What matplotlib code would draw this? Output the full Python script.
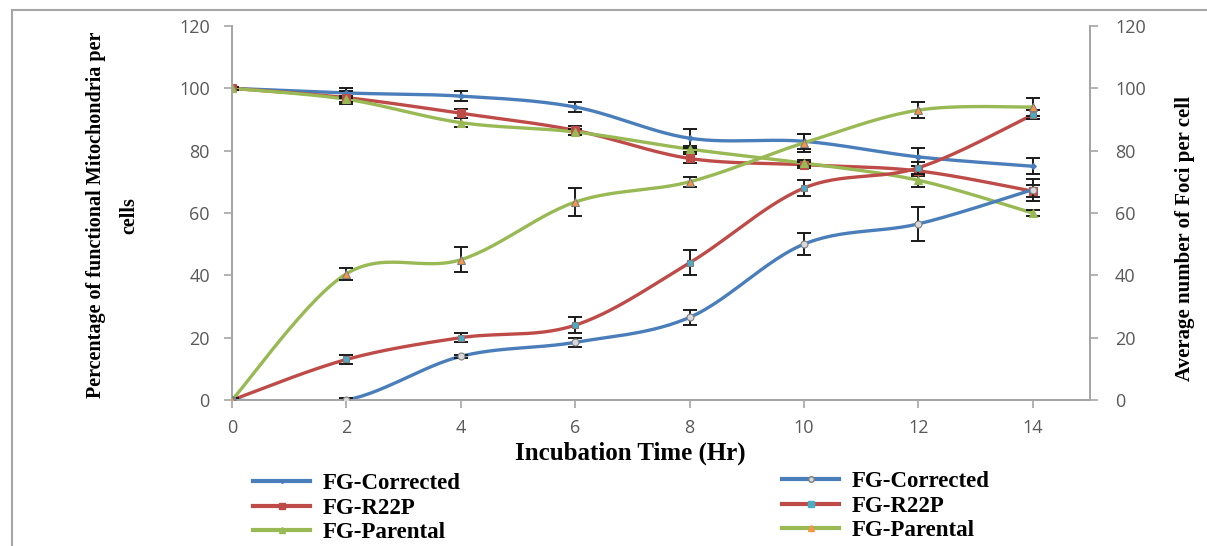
import numpy as np
import matplotlib.pyplot as plt
from matplotlib.lines import Line2D

hours = [0, 2, 4, 6, 8, 10, 12, 14]

# left axis: percentage of functional mitochondria
mito_corrected = [100, 98.5, 97.5, 94, 84, 83, 78, 75]
mito_r22p = [100, 97, 92, 86.5, 77.5, 75.5, 73.5, 67]
mito_parental = [100, 96.5, 89, 86, 80.5, 76, 70.5, 60]
mito_corrected_err = [0.5, 1.5, 1.5, 1.5, 3, 2.5, 3, 2.5]
mito_r22p_err = [0.5, 2, 1.5, 1.5, 1.5, 1, 1.5, 2]
mito_parental_err = [0.5, 1, 1.5, 1, 1, 1, 2, 1]

# right axis: average number of foci per cell
foci_corrected = [0, 0, 14, 18.5, 26.5, 50, 56.5, 67.5]
foci_r22p = [0, 13, 20, 24, 44, 68, 74.5, 91.5]
foci_parental = [0, 40.5, 45, 63.5, 70, 82.5, 93, 94]
foci_corrected_err = [0.5, 0.5, 0.5, 1.5, 2.5, 3.5, 5.5, 3.5]
foci_r22p_err = [0.5, 1.5, 1.5, 2.5, 4, 2.5, 2, 1.5]
foci_parental_err = [0.5, 2, 4, 4.5, 1.5, 3, 2.5, 3]

labels = ["FG-Corrected", "FG-R22P", "FG-Parental"]

BLUE = "#4a7ebb"
RED = "#be4b48"
GREEN = "#98b954"
GRAY = "#a6a6a6"
TICKC = "#595959"


def smooth(x, y, n=30):
    # excel style smoothed line (bezier through the points)
    x = np.asarray(x, float)
    y = np.asarray(y, float)
    px = np.concatenate([[x[0]], x, [x[-1]]])
    py = np.concatenate([[y[0]], y, [y[-1]]])
    xs, ys = [], []
    t = np.linspace(0, 1, n)
    for i in range(1, len(px) - 2):
        p0 = np.array([px[i], py[i]])
        p3 = np.array([px[i + 1], py[i + 1]])
        p1 = p0 + (np.array([px[i + 1], py[i + 1]]) - np.array([px[i - 1], py[i - 1]])) / 6
        p2 = p3 - (np.array([px[i + 2], py[i + 2]]) - np.array([px[i], py[i]])) / 6
        b = ((1 - t) ** 3)[:, None] * p0 + (3 * (1 - t) ** 2 * t)[:, None] * p1 \
            + (3 * (1 - t) * t ** 2)[:, None] * p2 + (t ** 3)[:, None] * p3
        xs.extend(b[:, 0])
        ys.extend(b[:, 1])
    return np.array(xs), np.array(ys)


fig = plt.figure(figsize=(12.07, 5.46), dpi=100)
ax = fig.add_axes([0.1922, 0.2674, 0.7108, 0.685])
ax2 = ax.twinx()

left_sets = [
    (mito_corrected, mito_corrected_err, BLUE, "D", BLUE, 3),
    (mito_r22p, mito_r22p_err, RED, "s", RED, 6),
    (mito_parental, mito_parental_err, GREEN, "^", GREEN, 6),
]
right_sets = [
    (foci_corrected, foci_corrected_err, BLUE, "o", "#d9d9d9", 5),
    (foci_r22p, foci_r22p_err, RED, "s", "#4bacc6", 5),
    (foci_parental, foci_parental_err, GREEN, "^", "#f79646", 6),
]

handles_left = []
handles_right = []
for axis, sets, hl in [(ax, left_sets, handles_left), (ax2, right_sets, handles_right)]:
    for vals, err, col, mk, mfc, ms in sets:
        sx, sy = smooth(hours, vals)
        axis.plot(sx, sy, color=col, lw=2.4, zorder=2, solid_capstyle="round")
        axis.errorbar(hours, vals, yerr=err, fmt="none", ecolor="#1a1a1a",
                      elinewidth=1.4, capsize=5, capthick=1.4, zorder=3)
        axis.plot(hours, vals, ls="none", marker=mk, ms=ms, mfc=mfc,
                  mec=col if mfc == col else "#7f7f7f", mew=0.8, zorder=4)
        hl.append(Line2D([], [], color=col, lw=3, marker=mk, ms=ms - 1,
                         mfc=mfc, mec=mfc if mk != "o" else "#7f7f7f"))

for axis in (ax, ax2):
    axis.set_ylim(0, 120)
    axis.set_yticks(range(0, 121, 20))
    axis.spines["top"].set_visible(False)
    for s in axis.spines.values():
        s.set_color(GRAY)
        s.set_linewidth(1.3)
    axis.tick_params(axis="both", colors=GRAY, labelcolor=TICKC,
                     labelsize=13, length=6, width=1.2, direction="out")

ax.set_xlim(0, 15)
ax.set_xticks(hours)
ax.tick_params(axis="y", pad=10)
ax.tick_params(axis="x", pad=8)
ax2.tick_params(axis="y", pad=12)
for t in ax.get_xticklabels() + ax.get_yticklabels() + ax2.get_yticklabels():
    t.set_fontfamily("Open Sans")

serif = "Liberation Serif"
ax.set_xlabel("Incubation Time (Hr)", fontfamily=serif, fontweight="bold",
              fontsize=18)
ax.xaxis.set_label_coords(0.464, -0.112)
fig.text(0.093, 0.606, "Percentage of functional Mitochondria per\ncells",
         rotation=90, ha="center", va="center", fontfamily=serif,
         fontweight="bold", fontsize=14.5, linespacing=1.9)
fig.text(0.982, 0.564, "Average number of Foci per cell", rotation=90,
         ha="center", va="center", fontfamily=serif, fontweight="bold",
         fontsize=15)

leg_kw = dict(frameon=False, prop={"family": serif, "weight": "bold", "size": 16.5},
              handlelength=2.5, handletextpad=0.55, labelspacing=0.15,
              borderaxespad=0, borderpad=0, loc="center left")
fig.legend(handles_left, labels, bbox_to_anchor=(0.2096, 0.069), **leg_kw)
fig.legend(handles_right, labels, bbox_to_anchor=(0.648, 0.073), **leg_kw)

# outer chart border (top and left visible)
fig.add_artist(Line2D([0.01, 1.0], [0.982, 0.982], color=GRAY, lw=1.5,
                      transform=fig.transFigure))
fig.add_artist(Line2D([0.01, 0.01], [0.0, 0.982], color=GRAY, lw=1.5,
                      transform=fig.transFigure))

fig.savefig("out.png", dpi=100)
